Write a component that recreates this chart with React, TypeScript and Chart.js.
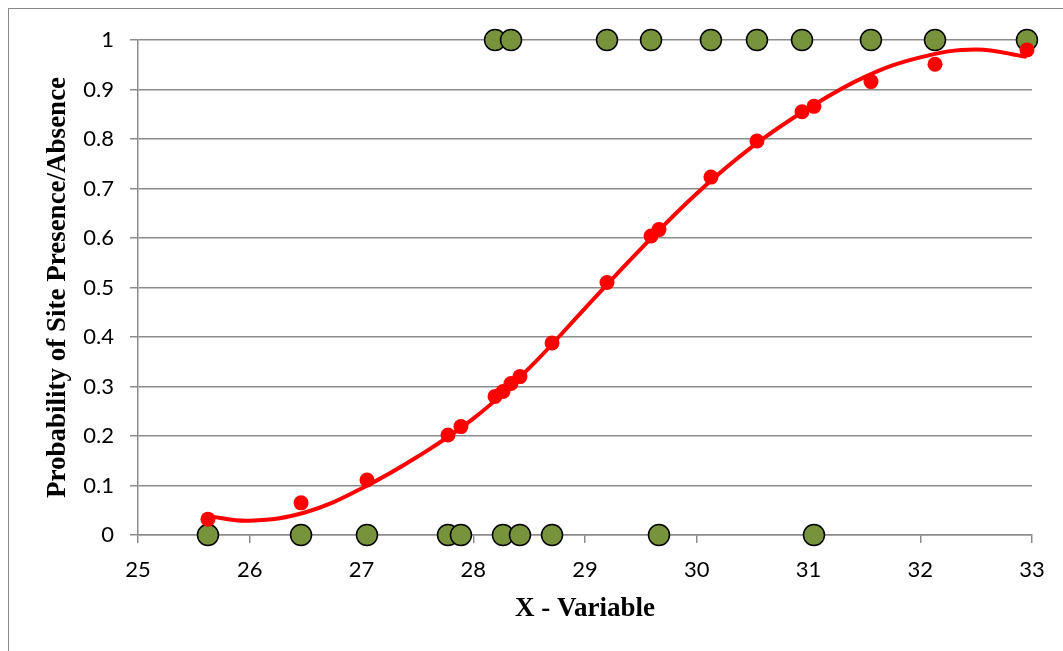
import React, { useEffect, useRef } from "react";
import { Chart, registerables } from "chart.js";

Chart.register(...registerables);

// X-variable values of the observations
const xValues = [
  25.626, 26.459, 27.049, 27.774, 27.89, 28.195, 28.266, 28.338, 28.418, 28.705,
  29.197, 29.591, 29.662, 30.127, 30.539, 30.942, 31.049, 31.559, 32.132, 32.955,
];
// Observed presence (1) / absence (0)
const observed = [0, 0, 0, 0, 0, 1, 0, 1, 0, 0, 1, 1, 0, 1, 1, 1, 0, 1, 1, 1];
// Predicted probability of site presence
const predicted = [
  0.032, 0.065, 0.111, 0.202, 0.219, 0.28, 0.29, 0.306, 0.32, 0.388,
  0.51, 0.604, 0.617, 0.723, 0.796, 0.855, 0.866, 0.916, 0.951, 0.98,
];
// Trend line
const trendX = [25.63, 26, 26.5, 27, 27.5, 28, 28.5, 29, 29.5, 30, 30.5, 31, 31.5, 32, 32.5, 32.95];
const trendY = [0.038, 0.029, 0.046, 0.094, 0.158, 0.235, 0.337, 0.458, 0.578, 0.69, 0.785, 0.862, 0.925, 0.965, 0.981, 0.966];

const xTicks = [25, 26, 27, 28, 29, 30, 31, 32, 33];
const yTickLabels = ["0", "0.1", "0.2", "0.3", "0.4", "0.5", "0.6", "0.7", "0.8", "0.9", "1"];

const GRID = "#8c8c8c";

export default function App() {
  const ref = useRef<HTMLCanvasElement | null>(null);

  useEffect(() => {
    if (!ref.current) return;
    const chart = new Chart(ref.current, {
      type: "scatter",
      data: {
        datasets: [
          {
            label: "Trend",
            data: trendX.map((x, i) => ({ x, y: trendY[i] })),
            showLine: true,
            tension: 0.4,
            borderColor: "#ff0000",
            borderWidth: 4,
            pointRadius: 0,
            fill: false,
            clip: false,
            order: 0,
          },
          {
            label: "Predicted",
            data: xValues.map((x, i) => ({ x, y: predicted[i] })),
            backgroundColor: "#ff0000",
            borderColor: "#ff0000",
            borderWidth: 0,
            pointRadius: 7.5,
            clip: false,
            order: 1,
          },
          {
            label: "Observed",
            data: xValues.map((x, i) => ({ x, y: observed[i] })),
            backgroundColor: "#77933c",
            borderColor: "#000000",
            borderWidth: 1.5,
            pointRadius: 10.5,
            clip: false,
            order: 2,
          },
        ],
      },
      options: {
        animation: false,
        responsive: false,
        maintainAspectRatio: false,
        layout: { padding: { left: 0, right: 31, top: 40, bottom: 0 } },
        plugins: {
          legend: { display: false },
          tooltip: { enabled: false },
        },
        scales: {
          x: {
            type: "linear",
            min: 25,
            max: 33,
            afterBuildTicks: (scale: any) => {
              scale.ticks = xTicks.map((v) => ({ value: v }));
            },
            afterFit: (scale: any) => {
              scale.height = 116;
            },
            ticks: {
              color: "#000",
              font: { family: "Lato", size: 22 },
              padding: 14,
              callback: (v: any) => String(v),
            },
            grid: {
              drawOnChartArea: false,
              drawTicks: true,
              tickLength: 8,
              color: GRID,
              lineWidth: 1.5,
            },
            border: { display: true, color: GRID, width: 1.5 },
            title: {
              display: true,
              text: "X - Variable",
              color: "#000",
              font: { family: "Liberation Serif", size: 27, weight: "bold" },
              padding: { top: 0, bottom: 26 },
            },
          },
          y: {
            type: "linear",
            min: 0,
            max: 1,
            afterBuildTicks: (scale: any) => {
              scale.ticks = yTickLabels.map((_, i) => ({ value: i / 10 }));
            },
            afterFit: (scale: any) => {
              scale.width = 138;
            },
            ticks: {
              color: "#000",
              font: { family: "Lato", size: 22 },
              padding: 16,
              callback: (_v: any, i: number) => yTickLabels[i],
            },
            grid: {
              drawOnChartArea: true,
              drawTicks: true,
              tickLength: 8,
              color: GRID,
              lineWidth: 1.5,
            },
            border: { display: true, color: GRID, width: 1.5 },
            title: {
              display: true,
              text: "Probability of Site Presence/Absence",
              color: "#000",
              font: { family: "Liberation Serif", size: 27, weight: "bold" },
              padding: { top: 42, bottom: 0 },
            },
          },
        },
      },
    });
    return () => chart.destroy();
  }, []);

  return (
    <div
      style={{
        position: "fixed",
        left: 0,
        top: 0,
        width: 1063,
        height: 651,
        overflow: "hidden",
        background: "#fff",
      }}
    >
      <div
        style={{
          position: "absolute",
          left: 8,
          top: 8,
          width: 1100,
          height: 700,
          border: "1px solid #8a8a8a",
        }}
      />
      <canvas
        ref={ref}
        width={1063}
        height={651}
        style={{ position: "absolute", left: 0, top: 0, width: 1063, height: 651 }}
      />
    </div>
  );
}
